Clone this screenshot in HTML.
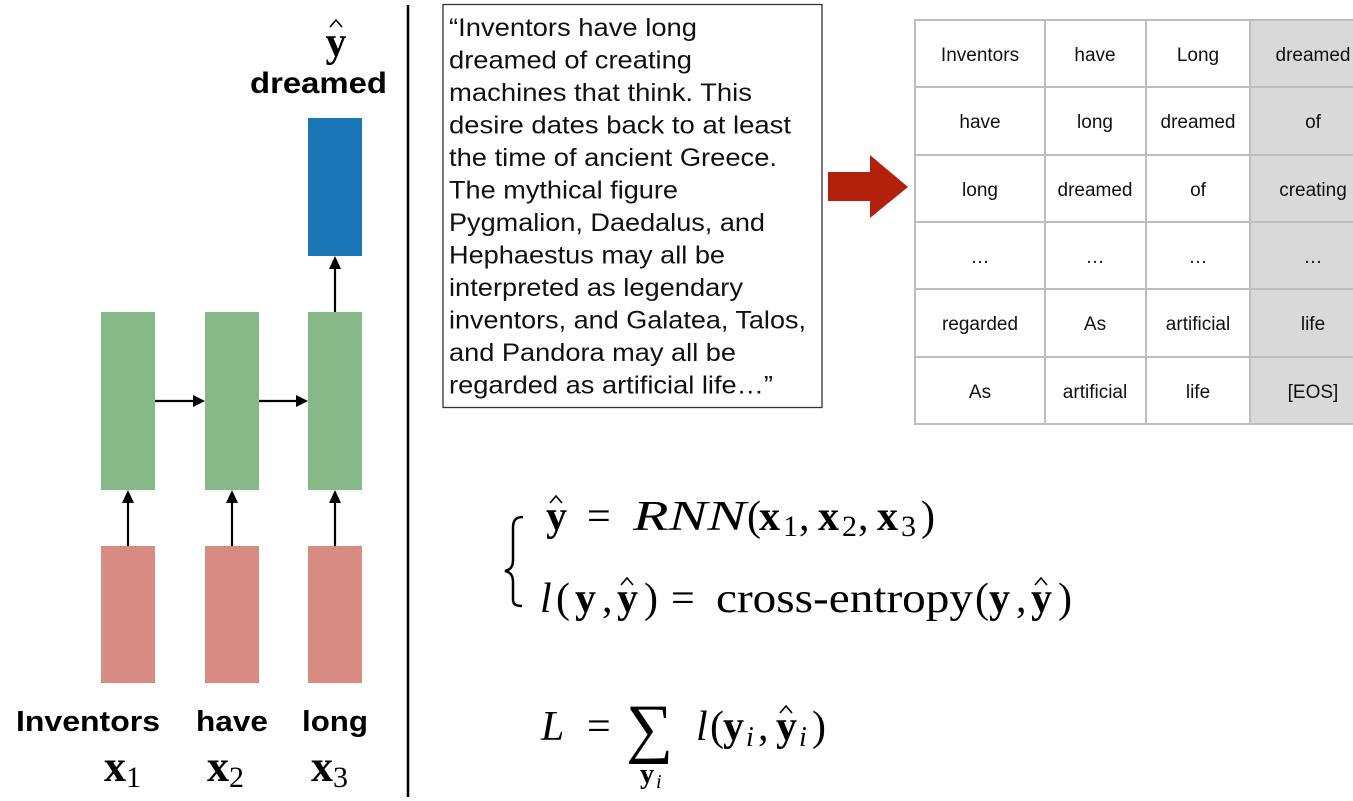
<!DOCTYPE html>
<html><head><meta charset="utf-8"><style>
html,body{margin:0;padding:0;background:#fff;width:1353px;height:801px;overflow:hidden}
svg{display:block}
.s{font-family:"Liberation Sans",sans-serif}
.m{font-family:"Liberation Serif",serif}
</style></head><body>
<svg width="1353" height="801" viewBox="0 0 1353 801" xmlns="http://www.w3.org/2000/svg">
<!-- left diagram -->
<rect x="308" y="118" width="54" height="138" fill="#1a76b6"/>
<rect x="101" y="312" width="54" height="178" fill="#87b887"/>
<rect x="205" y="312" width="54" height="178" fill="#87b887"/>
<rect x="308" y="312" width="54" height="178" fill="#87b887"/>
<rect x="101" y="546" width="54" height="137" fill="#d78b81"/>
<rect x="205" y="546" width="54" height="137" fill="#d78b81"/>
<rect x="308" y="546" width="54" height="137" fill="#d78b81"/>
<g stroke="#000" stroke-width="2.2" fill="none">
<line x1="335" y1="312" x2="335" y2="266"/>
<line x1="155" y1="401" x2="195" y2="401"/>
<line x1="259" y1="401" x2="298" y2="401"/>
<line x1="128" y1="546" x2="128" y2="500"/>
<line x1="232" y1="546" x2="232" y2="500"/>
<line x1="335" y1="546" x2="335" y2="500"/>
</g>
<g fill="#000">
<path d="M335,256 L329,269 L341,269z"/>
<path d="M205,401 L193,395 L193,407z"/>
<path d="M308,401 L296,395 L296,407z"/>
<path d="M128,490 L122,503 L134,503z"/>
<path d="M232,490 L226,503 L238,503z"/>
<path d="M335,490 L329,503 L341,503z"/>
</g>
<text x="336" y="56" class="m" font-size="42" font-weight="bold" text-anchor="middle">y</text>
<path d="M330,27 L336,20 L342,27" stroke="#000" stroke-width="1.6" fill="none"/>
<text x="250" y="93" class="s" font-size="30" font-weight="bold" textLength="137" lengthAdjust="spacingAndGlyphs">dreamed</text>
<text x="16" y="731" class="s" font-size="29" font-weight="bold" textLength="144" lengthAdjust="spacingAndGlyphs">Inventors</text>
<text x="196" y="731" class="s" font-size="29" font-weight="bold" textLength="72" lengthAdjust="spacingAndGlyphs">have</text>
<text x="302" y="731" class="s" font-size="29" font-weight="bold" textLength="66" lengthAdjust="spacingAndGlyphs">long</text>
<g class="m" font-size="44">
<text x="104" y="781" font-weight="bold">x<tspan font-size="30" font-weight="normal" dy="6">1</tspan></text>
<text x="207" y="781" font-weight="bold">x<tspan font-size="30" font-weight="normal" dy="6">2</tspan></text>
<text x="311" y="781" font-weight="bold">x<tspan font-size="30" font-weight="normal" dy="6">3</tspan></text>
</g>
<line x1="408" y1="5" x2="408" y2="797" stroke="#000" stroke-width="2.5"/>
<!-- text box -->
<rect x="443" y="4.5" width="379" height="403" fill="#fff" stroke="#333" stroke-width="1.3"/>
<g class="s" font-size="25" fill="#111" lengthAdjust="spacingAndGlyphs">
<text x="449" y="36" textLength="248" lengthAdjust="spacingAndGlyphs">“Inventors have long</text>
<text x="449" y="68.5" textLength="243" lengthAdjust="spacingAndGlyphs">dreamed of creating</text>
<text x="449" y="101" textLength="303" lengthAdjust="spacingAndGlyphs">machines that think. This</text>
<text x="449" y="133.5" textLength="342" lengthAdjust="spacingAndGlyphs">desire dates back to at least</text>
<text x="449" y="166" textLength="328" lengthAdjust="spacingAndGlyphs">the time of ancient Greece.</text>
<text x="449" y="198.5" textLength="229" lengthAdjust="spacingAndGlyphs">The mythical figure</text>
<text x="449" y="231" textLength="316" lengthAdjust="spacingAndGlyphs">Pygmalion, Daedalus, and</text>
<text x="449" y="263.5" textLength="276" lengthAdjust="spacingAndGlyphs">Hephaestus may all be</text>
<text x="449" y="296" textLength="294" lengthAdjust="spacingAndGlyphs">interpreted as legendary</text>
<text x="449" y="328.5" textLength="357" lengthAdjust="spacingAndGlyphs">inventors, and Galatea, Talos,</text>
<text x="449" y="361" textLength="287" lengthAdjust="spacingAndGlyphs">and Pandora may all be</text>
<text x="449" y="393.5" textLength="324" lengthAdjust="spacingAndGlyphs">regarded as artificial life…”</text>
</g>
<path d="M828,172 L870,172 L870,155 L908,187 L870,218 L870,201 L828,201z" fill="#b3200c"/>
<!-- table -->
<rect x="1250" y="20" width="103" height="404" fill="#d9d9d9"/>
<g stroke="#bdbdbd" stroke-width="2" fill="none">
<rect x="915" y="20" width="440" height="404"/>
<line x1="1045" y1="20" x2="1045" y2="424"/>
<line x1="1146" y1="20" x2="1146" y2="424"/>
<line x1="1250" y1="20" x2="1250" y2="424"/>
<line x1="915" y1="87" x2="1353" y2="87"/>
<line x1="915" y1="155" x2="1353" y2="155"/>
<line x1="915" y1="222" x2="1353" y2="222"/>
<line x1="915" y1="289" x2="1353" y2="289"/>
<line x1="915" y1="357" x2="1353" y2="357"/>
</g>
<g class="s" font-size="19" fill="#111" text-anchor="middle">
<text x="980" y="61">Inventors</text><text x="1095" y="61">have</text><text x="1198" y="61">Long</text><text x="1313" y="61">dreamed</text>
<text x="980" y="128">have</text><text x="1095" y="128">long</text><text x="1198" y="128">dreamed</text><text x="1313" y="128">of</text>
<text x="980" y="196">long</text><text x="1095" y="196">dreamed</text><text x="1198" y="196">of</text><text x="1313" y="196">creating</text>
<text x="980" y="263">…</text><text x="1095" y="263">…</text><text x="1198" y="263">…</text><text x="1313" y="263">…</text>
<text x="980" y="330">regarded</text><text x="1095" y="330">As</text><text x="1198" y="330">artificial</text><text x="1313" y="330">life</text>
<text x="980" y="398">As</text><text x="1095" y="398">artificial</text><text x="1198" y="398">life</text><text x="1313" y="398">[EOS]</text>
</g>
<!-- equations -->
<path d="M523,517 C515,517 513,521 513,528 L513,560 C513,567 510,570 505,571 C510,572 513,575 513,582 L513,600 C513,604 516,606 522,606" stroke="#000" stroke-width="2.5" fill="none"/>
<g class="m" font-size="42" fill="#000">
<!-- line 1 -->
<text x="546" y="530" font-weight="bold">y</text>
<text x="587" y="530">=</text>
<text x="633" y="530" font-style="italic" textLength="113" lengthAdjust="spacingAndGlyphs">RNN</text>
<text x="747" y="530">(</text>
<text x="759" y="530" font-weight="bold">x</text><text x="783" y="536" font-size="30">1</text><text x="799" y="530">,</text>
<text x="818" y="530" font-weight="bold">x</text><text x="842" y="536" font-size="30">2</text><text x="858" y="530">,</text>
<text x="877" y="530" font-weight="bold">x</text><text x="901" y="536" font-size="30">3</text>
<text x="921" y="530">)</text>
<!-- line 2 -->
<text x="540" y="612" font-style="italic">l</text>
<text x="556" y="612">(</text>
<text x="575" y="612" font-weight="bold">y</text>
<text x="602" y="612">,</text>
<text x="617" y="612" font-weight="bold">y</text>
<text x="644" y="612">)</text>
<text x="671" y="612">=</text>
<text x="716" y="612" textLength="257" lengthAdjust="spacingAndGlyphs">cross-entropy</text>
<text x="975" y="612">(</text>
<text x="989" y="612" font-weight="bold">y</text>
<text x="1016" y="612">,</text>
<text x="1031" y="612" font-weight="bold">y</text>
<text x="1058" y="612">)</text>
<!-- L line -->
<text x="541" y="740" font-style="italic">L</text>
<text x="587" y="740">=</text>
<text x="626" y="750" font-size="66">∑</text>
<text x="696" y="740" font-style="italic">l</text>
<text x="710" y="740">(</text>
<text x="723" y="740" font-weight="bold">y</text><text x="746" y="746" font-size="28" font-style="italic">i</text>
<text x="758" y="740">,</text>
<text x="776" y="740" font-weight="bold">y</text><text x="799" y="746" font-size="28" font-style="italic">i</text>
<text x="812" y="740">)</text>
<text x="640" y="783" font-size="28" font-weight="bold">y</text><text x="656" y="788" font-size="20" font-style="italic">i</text>
</g>
<g stroke="#000" stroke-width="1.6" fill="none">
<path d="M550,503 L556,496 L562,503"/>
<path d="M621,585 L627,578 L633,585"/>
<path d="M1035,585 L1041,578 L1047,585"/>
<path d="M780,713 L786,706 L792,713"/>
</g>
</svg>
</body></html>
